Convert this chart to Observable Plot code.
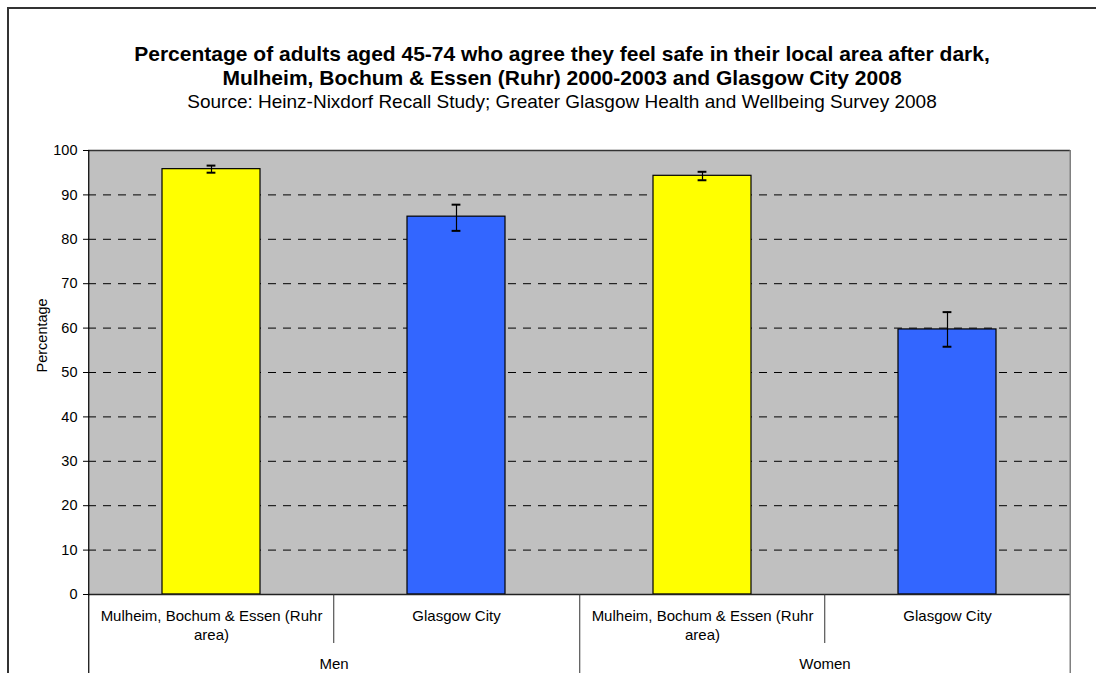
<!DOCTYPE html>
<html>
<head>
<meta charset="utf-8">
<script src="https://cdn.jsdelivr.net/npm/d3@7"></script>
<script src="https://cdn.jsdelivr.net/npm/@observablehq/plot@0.6"></script>
<style>
  html, body { margin: 0; padding: 0; background: #fff; }
  #wrap { position: relative; width: 1096px; height: 673px; overflow: hidden; font-family: "Liberation Sans", Arial, sans-serif; }
  #outer { position: absolute; left: 7px; top: 7px; width: 2000px; height: 2000px; border-left: 2px solid #333; border-top: 2px solid #333; }
  #titles { position: absolute; left: 0; top: 42px; width: 1124px; text-align: center; color: #000; }
  #titles .t { font-weight: bold; font-size: 21px; line-height: 24px; }
  #titles .s { font-size: 19px; line-height: 24px; }
  #chart { position: absolute; left: 0; top: 140px; }
</style>
</head>
<body>
<div id="wrap">
  <div id="outer"></div>
  <div id="titles">
    <div class="t">Percentage of adults aged 45-74 who agree they feel safe in their local area after dark,</div>
    <div class="t">Mulheim, Bochum &amp; Essen (Ruhr) 2000-2003 and Glasgow City 2008</div>
    <div class="s">Source: Heinz-Nixdorf Recall Study; Greater Glasgow Health and Wellbeing Survey 2008</div>
  </div>
  <div id="chart"></div>
</div>
<script>
// ---- data ----
const sexes = ["Men", "Women"];
const sites = ["Mulheim, Bochum & Essen (Ruhr area)", "Glasgow City"];
const percent = [95.8, 85.1, 94.3, 59.7];   // Men-Ruhr, Men-Glasgow, Women-Ruhr, Women-Glasgow
const lowerCI = [95.0, 81.9, 93.3, 55.8];
const upperCI = [96.6, 87.8, 95.2, 63.6];
const yTicks = [0, 10, 20, 30, 40, 50, 60, 70, 80, 90, 100];
const gridTicks = [10, 20, 30, 40, 50, 60, 70, 80, 90];
const barColors = ["#ffff00", "#3366ff"];
const yLabel = "Percentage";

const rows = sexes.flatMap((sex, i) => sites.map((site, j) => ({
  sex, site,
  value: percent[i * 2 + j],
  lo: lowerCI[i * 2 + j],
  hi: upperCI[i * 2 + j]
})));

// ---- layout ----
const W = 1096, H = 533, ML = 88, MR = 26, MT = 10, MB = 79;
const FS = 14.5;
const FSX = 15;
const step = (W - ML - MR) / (sexes.length * sites.length);
const half = step / 2;
const capW = 9;
const bandW = step * 0.4;
const capInset = (bandW - capW) / 2;

const shortSeps = sexes.map(sex => ({sex, site: sites[1]}));
const longSeps = [{sex: sexes[1], site: sites[0]}];

const chart = Plot.plot({
  width: W, height: H,
  marginLeft: ML, marginRight: MR, marginTop: MT, marginBottom: MB,
  style: {fontFamily: "'Liberation Sans', Arial, sans-serif", fontSize: FS + "px", color: "#000", background: "transparent"},
  fx: {domain: sexes, padding: 0, axis: null},
  x: {domain: sites, paddingInner: 0.6, paddingOuter: 0.3, axis: null},
  y: {domain: [0, 100], axis: null},
  color: {domain: sites, range: barColors},
  marks: [
    Plot.frame({fill: "#c0c0c0", stroke: null, insetLeft: -0.5, insetRight: -0.5}),
    Plot.ruleY(gridTicks, {stroke: "#000", strokeWidth: 1, strokeDasharray: "8,7"}),
    Plot.ruleY([100], {stroke: "#333", strokeWidth: 1.5}),
    Plot.barY(rows, {fx: "sex", x: "site", y: "value", fill: "site", stroke: "#000", strokeWidth: 1.2}),
    Plot.ruleX(rows, {fx: "sex", x: "site", y1: "lo", y2: "hi", stroke: "#000", strokeWidth: 1.2}),
    Plot.tickY(rows, {fx: "sex", x: "site", y: "lo", stroke: "#000", strokeWidth: 2, insetLeft: capInset, insetRight: capInset}),
    Plot.tickY(rows, {fx: "sex", x: "site", y: "hi", stroke: "#000", strokeWidth: 2, insetLeft: capInset, insetRight: capInset}),
    // x axis baseline
    Plot.ruleY([0], {stroke: "#222", strokeWidth: 1.5}),
    // left axis line (extends into the category label area)
    Plot.ruleX([{sex: sexes[0], site: sites[0]}], {fx: "sex", x: "site", dx: -half, stroke: "#000", strokeWidth: 1.2, insetBottom: -MB}),
    // right edge of plot area
    Plot.ruleX([{sex: sexes[1], site: sites[1]}], {fx: "sex", x: "site", dx: half, stroke: "#808080", strokeWidth: 1.5, insetBottom: -MB}),
    // group separator
    Plot.ruleX(longSeps, {fx: "sex", x: "site", dx: -half, y1: 0, y2: 0, stroke: "#333", insetBottom: -MB}),
    // category separators
    Plot.ruleX(shortSeps, {fx: "sex", x: "site", dx: -half, y1: 0, y2: 0, stroke: "#333", insetBottom: -49}),
    // y axis
    Plot.axisY({ticks: yTicks, tickSize: 5, tickPadding: 6, fontSize: FS, label: null, stroke: "#000"}),
    Plot.text([{sex: sexes[0], label: yLabel}], {fx: "sex", text: "label", frameAnchor: "left", rotate: -90, dx: -46, fontSize: FS, fill: "#000"}),
    // category labels
    Plot.axisX({anchor: "bottom", tickSize: 0, tickPadding: 13, fontSize: FSX, lineWidth: 16.5, lineHeight: 1.27, label: null}),
    // group labels
    Plot.axisFx({anchor: "bottom", tickSize: 0, tickPadding: 64, fontSize: FSX, label: null})
  ]
});
document.getElementById("chart").appendChild(chart);
</script>
</body>
</html>
